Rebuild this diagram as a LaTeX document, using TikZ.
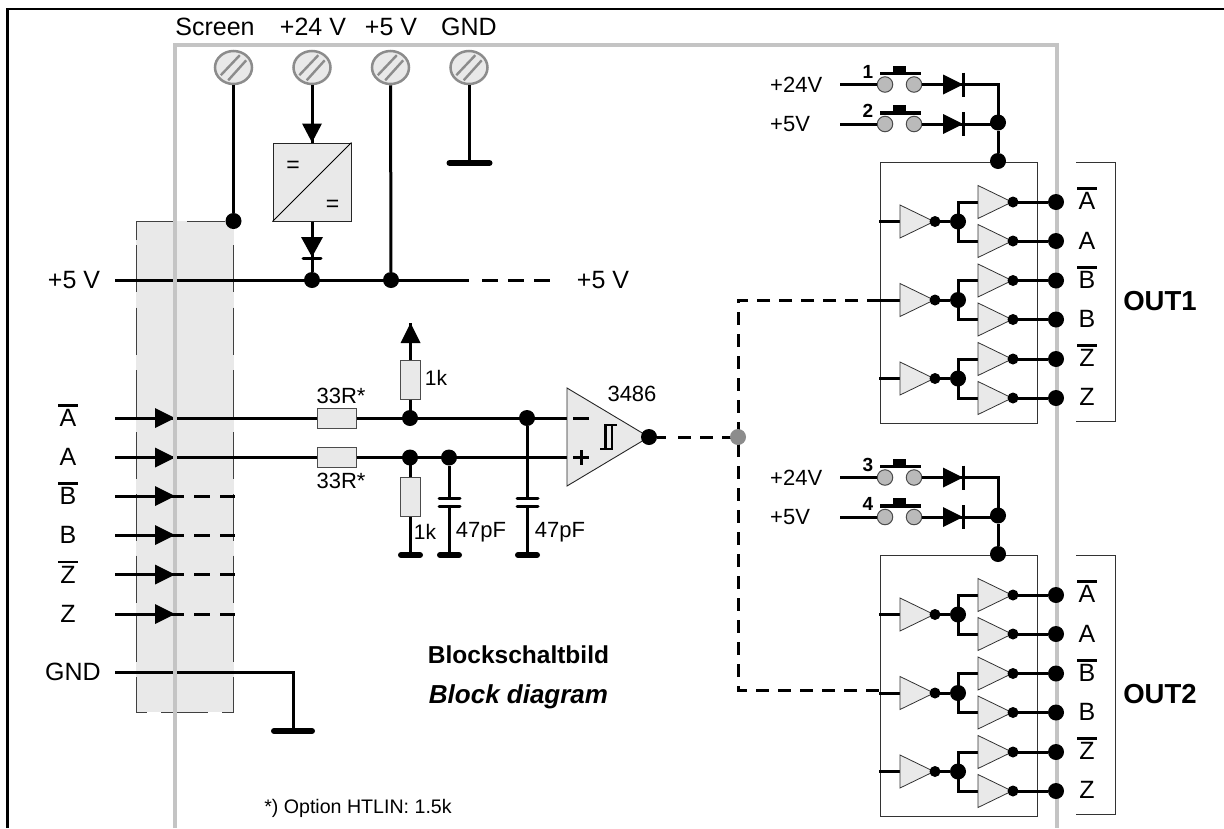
\documentclass[tikz,border=0pt]{standalone}
\usepackage{fontspec}
\setmainfont{Liberation Sans}
\usetikzlibrary{shapes.geometric}
\newcommand\fs[1]{\fontsize{#1}{#1}\selectfont}
\newcommand\ovl[1]{\setbox0\hbox{#1}\makebox[\wd0][c]{\raisebox{20pt}[0pt][0pt]{\rule{20pt}{2.6pt}}}\hspace{-\wd0}\box0\relax}
\definecolor{fillgray}{HTML}{E9E9E9}
\definecolor{framegray}{HTML}{C4C4C4}
\definecolor{termgray}{HTML}{8C8C8C}
\tikzset{
  x=1pt,y=-1pt,
  wire/.style={line width=3pt,black},
  dashwire/.style={line width=3pt,black,dash pattern=on 16pt off 10pt},
  hubwire/.style={line width=3pt,black,dash pattern=on 13pt off 9pt},
  bardraw/.style={line width=6pt,black,line cap=round},
  plate/.style={line width=3pt,black,line cap=round},
  dot/.style={circle,fill=black,inner sep=0pt,minimum size=16pt},
  smalldot/.style={circle,fill=black,inner sep=0pt,minimum size=11pt},
  res/.style={draw=black!70!white,line width=1pt,fill=fillgray,inner sep=0pt},
  hres/.style={res,minimum width=39pt,minimum height=20pt},
  vres/.style={res,minimum width=20pt,minimum height=39pt},
  terminal/.style={ellipse,draw=termgray,line width=2.5pt,fill=fillgray,minimum width=37pt,minimum height=33pt,inner sep=0pt},
  hatch/.style={termgray,line width=2.4pt},
  buftri/.style={draw=black!80!white,line width=.8pt,fill=fillgray},
  swc/.style={circle,draw=black!70!white,line width=1pt,fill=black!27!white,inner sep=0pt,minimum size=15.5pt},
  lab/.style={inner sep=0pt,font=\fs{25}},
  mid/.style={inner sep=0pt,font=\fs{22}},
  thinbox/.style={draw=black!80!white,line width=1pt},
  boxedge/.style={line width=.9pt,black!75!white},
}
\newcommand\switchdiode[4]{% name, y, label text, number
  \node[mid,anchor=west] (#1lab) at (770,#2) {#3};
  \coordinate (#1in) at (840,#2);
  \node[swc] (#1a) at (885,#2) {};
  \node[swc] (#1b) at (914,#2) {};
  \coordinate (#1d) at (963,#2);
  \draw[wire] (#1in) -- (#1a.west);
  \draw[wire] (#1b.east) -- (#1d);
  \draw[line width=3.2pt] (880,#2-11) -- (921,#2-11);
  \fill (893,#2-19) rectangle (906,#2-11);
  \node[inner sep=0pt,font=\fs{19}\bfseries] (#1num) at (868,#2-13) {#4};
  \fill (943,#2-10) -- (963,#2) -- (943,#2+10) -- cycle;
  \draw[line width=3pt] (963,#2-12) -- (963,#2+12);
}
\newcommand\bufgroup[2]{% name, y of left buffer
  \coordinate (#1in) at (879,#2);
  \coordinate (#1lt) at (900,#2);
  \coordinate (#1ut) at (978,#2-19.5);
  \coordinate (#1vt) at (978,#2+19.5);
  \node[dot] (#1m) at (958,#2) {};
  \node[dot] (#1uo) at (1056,#2-19.5) {};
  \node[dot] (#1vo) at (1056,#2+19.5) {};
  \draw[wire] (#1in) -- (#1lt);
  \draw[wire] (#1lt) -- (#1m);
  \draw[wire] (#1m.center) |- (#1ut);
  \draw[wire] (#1m.center) |- (#1vt);
  \draw[wire] (#1ut) -- (#1uo);
  \draw[wire] (#1vt) -- (#1vo);
  \draw[buftri] (900,#2-16.5) -- (934,#2) -- (900,#2+16.5) -- cycle;
  \draw[buftri] (978,#2-36) -- (1012,#2-19.5) -- (978,#2-3) -- cycle;
  \draw[buftri] (978,#2+3) -- (1012,#2+19.5) -- (978,#2+36) -- cycle;
  \node[smalldot] (#1ld) at (935,#2) {};
  \node[smalldot] (#1ud) at (1013,#2-19.5) {};
  \node[smalldot] (#1vd) at (1013,#2+19.5) {};
}
\begin{document}
\begin{tikzpicture}
\useasboundingbox (0,0) rectangle (1224,828);
% frames
\draw[line width=2.8pt,black] (7.5,828) -- (7.5,9) -- (1224,9);
\fill[fillgray] (136,221) rectangle (233.5,712);
% dashed box edges
\draw[boxedge] (136,240) -- (136,221) -- (173,221) (187,221) -- (225,221);
\foreach \x in {136,233.5}{
  \foreach \a in {245,307.5,370,432,494,555.5,615}{
    \draw[boxedge] (\x,\a) -- (\x,\a+47);
  }
  \draw[boxedge] (\x,677) -- (\x,712);
}
\draw[boxedge] (136,712) -- (147,712) (161,712) -- (208,712) (222,712) -- (233.5,712);
\draw[framegray,line width=3.2pt] (175,828) -- (175,45) -- (1057,45) -- (1057,828);
% terminals
\foreach \n/\x in {tsc/233.5,tp/312,tf/390.5,tg/469}{
  \node[terminal] (\n) at (\x,67.5) {};
  \draw[hatch] (\x-12.7,75.2) -- (\x+6.3,55.2);
  \draw[hatch] (\x-5.3,80.3) -- (\x+12.7,60.3);
}
\node[lab] (lsc) at (215,27) {Screen};
\node[lab] (lp) at (313,27) {+24 V};
\node[lab] (lf) at (391,27) {+5 V};
\node[lab] (lg) at (469,27) {GND};
% supply
\node[dot] (dsc) at (233.5,221) {};
\draw[wire] (tsc) -- (dsc);
\node[draw=black!85!white,line width=1pt,fill=fillgray,minimum size=78pt,inner sep=0pt] (conv) at (312,182) {};
\draw[line width=1pt] (conv.south west) -- (conv.north east);
\node[inner sep=0pt,font=\fs{23}] (eq1) at (293,167) {=};
\node[inner sep=0pt,font=\fs{23}] (eq2) at (332.5,206) {=};
\draw[wire] (tp) -- (conv.north);
\fill (conv.north) -- ++(-10,-19) -- ++(20,0) -- cycle;
\node[dot] (dp) at (312,280) {};
\node[dot] (df) at (391,280) {};
\draw[wire] (conv.south) -- (dp);
\fill (301,237) -- (323,237) -- (312,257) -- cycle;
\draw[plate] (303,258) -- (321,258);
\draw[wire] (tf) -- (df);
\coordinate (gtop) at (469,163);
\draw[wire] (tg) -- (gtop);
\draw[bardraw] (449.5,163) -- (489.5,163);
\node[lab] (l5) at (74,280) {+5 V};
\coordinate (r5a) at (115,280);
\coordinate (r5b) at (469,280);
\coordinate (r5c) at (555,280);
\draw[wire] (r5a) -- (r5b);
\draw[dashwire] (482,280) -- (r5c);
\node[lab] (r5lab) at (603,280) {+5 V};
% inputs
\foreach \n/\y/\t in {ib/496/\ovl{B},ic/535/B,id/574.5/\ovl{Z},ie/614/Z}{
  \node[lab] (\n) at (68,\y) {\t};
  \coordinate (\n s) at (115,\y);
  \coordinate (\n e) at (176,\y);
  \draw[wire] (\n s) -- (\n e);
  \fill (155,\y-10) -- (175,\y) -- (155,\y+10) -- cycle;
  \draw[line width=3pt] (175,\y) -- (184,\y) (194,\y) -- (210,\y) (220,\y) -- (235,\y);
}
\node[lab] (ia) at (68,418) {\ovl{A}};
\node[lab] (iaa) at (68,457) {A};
\node[hres] (r1) at (336.5,418) {};
\node[hres] (r2) at (336.5,457.5) {};
\coordinate (ias) at (115,418);
\coordinate (iaas) at (115,457.5);
\draw[wire] (ias) -- (r1.west);
\draw[wire] (iaas) -- (r2.west);
\foreach \y in {418,457.5}{\fill (155,\y-10) -- (175,\y) -- (155,\y+10) -- cycle;}
\node[mid] (lr1) at (341,396) {33R*};
\node[mid] (lr2) at (341,481) {33R*};
% GND in
\node[lab] (lgnd) at (73,672) {GND};
\coordinate (gs) at (115,672.5);
\coordinate (gb) at (293,731);
\draw[wire] (gs) -| (gb);
\draw[bardraw] (274,731) -- (312,731);
\foreach \y in {280,418,457.5,672.5}{\draw[framegray,line width=3.2pt] (175,\y-3) -- (175,\y+3);}
% network
\node[dot] (n1) at (410,418) {};
\node[dot] (n2) at (410,457.5) {};
\node[dot] (n3) at (449,457.5) {};
\node[dot] (n4) at (527,418) {};
\node[vres] (rup) at (410.5,379.5) {};
\node[vres] (rdn) at (410.5,497) {};
\coordinate (ptip) at (410.5,323);
\draw[wire] (rup.south) -- (rup.south |- n1);
\draw[wire] (ptip) -- (rup.north);
\fill (ptip) -- ++(10,20) -- ++(-20,0) -- cycle;
\node[mid,font=\fs{21}] (l1ka) at (436,378) {1k};
\coordinate (g1) at (410.5,555);
\coordinate (g2) at (449,555);
\coordinate (g3) at (527,555);
\draw[wire] (rdn.north |- n2) -- (rdn.north);
\draw[wire] (rdn.south) -- (g1);
\draw[bardraw] (401,555) -- (420,555);
\draw[wire] (n3) -- (449,498) (449,506) -- (g2);
\draw[plate] (439,498) -- (460,498) (439,506) -- (460,506);
\draw[bardraw] (440,555) -- (459,555);
\draw[wire] (n4) -- (527,498) (527,506) -- (g3);
\draw[plate] (517,498) -- (538,498) (517,506) -- (538,506);
\draw[bardraw] (518,555) -- (537,555);
\node[mid,font=\fs{21}] (l1kb) at (425,532) {1k};
\node[mid] (lc1) at (481,532) {47pF};
\node[mid] (lc2) at (560,532) {47pF};
% op amp
\coordinate (opm) at (567,418);
\coordinate (opp) at (567,457.5);
\draw[wire] (r1.east) -- (opm);
\draw[wire] (r2.east) -- (opp);
\draw[fill=fillgray,draw=black!85!white,line width=.9pt] (567,388) -- (649,437) -- (567,486) -- cycle;
\draw[line width=3pt] (573,418) -- (589,418);
\draw[line width=3pt] (573,457.5) -- (589,457.5) (581,450) -- (581,465);
\draw[line width=2.6pt] (617,425) -- (605.5,425) -- (605.5,449) (600,449) -- (612,449) -- (612,425);
\node[mid] (l3486) at (632,394) {3486};
\node[dot] (opo) at (649,437) {};
\coordinate (hub) at (738,437);
\draw[wire] (opo) -- (666,437);
\draw[hubwire] (678,437) -- (hub);
\coordinate (htop) at (880,300);
\coordinate (hbot) at (880,690);
\draw[hubwire] (htop) -- (738,300) -- (738,690) -- (hbot);
\node[circle,fill=termgray,inner sep=0pt,minimum size=16pt] (hubdot) at (hub) {};
% text
\node[inner sep=0pt,font=\fs{24.5}\bfseries] (t1) at (518.5,655) {Blockschaltbild};
\node[inner sep=0pt,font=\fs{26}\bfseries\itshape] (t2) at (518.5,697) {Block diagram};
\node[inner sep=0pt,font=\fs{19.6}] (t3) at (358,808) {*) Option HTLIN: 1.5k};
% output groups
\foreach \o/\nm/\p/\q/\np/\nq in {0/OUT1/x/y/1/2,393/OUT2/u/v/3/4}{
  \begin{scope}[shift={(0,\o)}]
  \draw[thinbox] (880,162) rectangle (1037,423.5);
  \draw[thinbox] (1076,162) -- (1115,162) -- (1115,421.5) -- (1076,421.5);
  \switchdiode{\p}{84.5}{+24V}{\np}
  \switchdiode{\q}{124}{+5V}{\nq}
  \node[dot] (j\o a) at (998,122.5) {};
  \node[dot] (j\o b) at (998,161) {};
  \draw[wire,line join=miter] (\p d) -| (j\o a.center);
  \draw[wire] (\q d) -- (\q d -| j\o a);
  \draw[wire] (j\o a) -- (j\o b);
  \bufgroup{ga\o}{221.5}
  \bufgroup{gb\o}{300}
  \bufgroup{gc\o}{378.5}
  \node[lab] (oa\o) at (1087,201) {\ovl{A}};
  \node[lab] (ob\o) at (1087,241) {A};
  \node[lab] (oc\o) at (1087,280) {\ovl{B}};
  \node[lab] (od\o) at (1087,319) {B};
  \node[lab] (oe\o) at (1087,358) {\ovl{Z}};
  \node[lab] (of\o) at (1087,397) {Z};
  \node[inner sep=0pt,font=\fs{27.5}\bfseries] (name\o) at (1160,301) {\nm};
  \end{scope}
}
\end{tikzpicture}
\end{document}
